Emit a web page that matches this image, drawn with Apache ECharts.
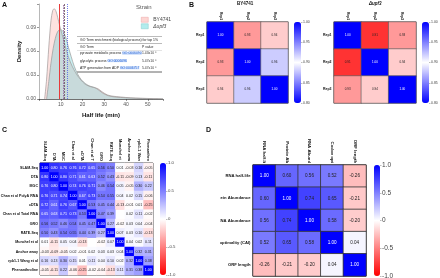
<!DOCTYPE html>
<html>
<head>
<meta charset="utf-8">
<script src="https://cdn.jsdelivr.net/npm/echarts@6/dist/echarts.min.js"></script>
<style>
html, body { margin: 0; padding: 0; background: #fff; }
#main { width: 440px; height: 278px; }
</style>
</head>
<body>
<div id="main"></div>
<script>
var chart = echarts.init(document.getElementById('main'));
var FONT = '"Liberation Sans", Arial, sans-serif';

// --- A: half-life density ---
var byX = [2.6, 3.5, 4.5, 5.5, 6.3, 7.0, 7.8, 8.6, 9.5, 10.5, 11.5, 12.5, 13.5, 14.6, 16, 17.5, 19.2, 21, 23, 25, 27, 29, 31.5, 34, 37.6, 42, 46.8, 52, 57];
var byY = [0, 0.025, 0.065, 0.098, 0.111, 0.113, 0.110, 0.102, 0.092, 0.082, 0.072, 0.062, 0.053, 0.045, 0.037, 0.030, 0.024, 0.019, 0.016, 0.0145, 0.013, 0.009, 0.005, 0.0035, 0.0025, 0.0015, 0.001, 0.0005, 0.0002];
var upfX = [3.5, 4.5, 5.5, 6.5, 7.5, 8.5, 9.7, 11, 12.3, 13.5, 14.8, 16.2, 17.8, 19.5, 21.5, 23.5, 25.5, 27.5, 29.5, 32, 35, 40, 45, 50, 57];
var upfY = [0, 0.022, 0.045, 0.063, 0.076, 0.084, 0.087, 0.085, 0.077, 0.065, 0.053, 0.041, 0.031, 0.024, 0.019, 0.016, 0.0145, 0.011, 0.007, 0.004, 0.0025, 0.0015, 0.0008, 0.0004, 0.0002];
var strains = ['BY4741', 'Δupf3'];
var refLines = [9.2, 11.0, 11.6, 13.1];

var goTitle = 'GO Term enrichment (biological process) for top 1%';
var goTerms = ['pyruvate metabolic process', 'glycolytic process', 'ATP generation from ADP'];
var goIds = ['GO:0006090', 'GO:0006096', 'GO:0006757'];
var goP = ['1.43x10⁻⁸', '5.47x10⁻⁸', '5.47x10⁻⁸'];

// --- B: replicate correlations ---
var reps = ['Rep1', 'Rep2', 'Rep3'];
var byCorr = [[1.00, 0.93, 0.94], [0.93, 1.00, 0.96], [0.94, 0.96, 1.00]];
var upfCorr = [[1.00, 0.91, 0.93], [0.91, 1.00, 0.94], [0.93, 0.94, 1.00]];

// --- C: dataset correlations ---
var sets = ['SLAM-Seq', 'DTA', 'MGC', 'Chan et al PolyA RNA', 'cDTA', 'Chan et al Total RNA', 'GRO', 'RATE-Seq', 'Munchel et al', 'Anchor away', 'rpb1-1 Wang et al', 'Phenanthroline'];
var setCorr = [
  [1.00, 0.80, 0.76, 0.76, 0.72, 0.65, 0.56, 0.50, 0.01, -0.03, 0.16, -0.05],
  [0.80, 1.00, 0.80, 0.71, 0.61, 0.63, 0.52, 0.43, -0.11, -0.09, 0.13, -0.11],
  [0.76, 0.80, 1.00, 0.74, 0.76, 0.71, 0.46, 0.54, 0.05, -0.05, 0.30, 0.22],
  [0.76, 0.71, 0.74, 1.00, 0.67, 0.73, 0.54, 0.55, 0.04, 0.02, 0.15, -0.06],
  [0.72, 0.61, 0.76, 0.67, 1.00, 0.53, 0.45, 0.44, -0.13, -0.01, 0.01, -0.25],
  [0.65, 0.63, 0.71, 0.73, 0.53, 1.00, 0.47, 0.39, null, 0.02, 0.11, -0.02],
  [0.56, 0.52, 0.46, 0.54, 0.45, 0.47, 1.00, 0.27, -0.02, 0.03, 0.04, -0.04],
  [0.50, 0.43, 0.54, 0.55, 0.44, 0.39, 0.27, 1.00, 0.07, 0.03, 0.10, -0.13],
  [0.01, -0.11, 0.05, 0.04, -0.13, null, -0.02, 0.07, 1.00, 0.04, 0.02, 0.11],
  [-0.03, -0.09, -0.05, 0.02, -0.01, 0.02, 0.03, 0.03, 0.04, 1.00, 0.32, 0.31],
  [0.16, 0.13, 0.30, 0.15, 0.01, 0.11, 0.04, 0.10, 0.02, 0.32, 1.00, 0.38],
  [-0.05, -0.11, 0.22, -0.06, -0.25, -0.02, -0.04, -0.13, 0.11, 0.31, 0.38, 1.00]
];

// --- D: features ---
var feats = ['RNA half-life', 'Protein Abundance', 'RNA Abundance', 'Codon optimality (CAI)', 'ORF length'];
var featCorr = [
  [1.00, 0.60, 0.56, 0.52, -0.26],
  [0.60, 1.00, 0.74, 0.65, -0.21],
  [0.56, 0.74, 1.00, 0.58, -0.20],
  [0.52, 0.65, 0.58, 1.00, 0.04],
  [-0.26, -0.21, -0.20, 0.04, 1.00]
];

function pairs(xs, ys) {
  return xs.map(function (x, i) { return [x, ys[i]]; });
}

function cells(mat, whiteFrom) {
  var out = [];
  for (var r = 0; r < mat.length; r++) {
    for (var c = 0; c < mat[r].length; c++) {
      var v = mat[r][c];
      out.push({
        value: [c, r, v == null ? '-' : v],
        label: { color: v != null && v >= whiteFrom ? '#fff' : '#222' }
      });
    }
  }
  return out;
}

function topAxis(gi, labels, fs, w) {
  return {
    type: 'category', gridIndex: gi, data: labels, position: 'top',
    axisLine: { show: false }, axisTick: { show: false }, splitLine: { show: false },
    axisLabel: { interval: 0, rotate: 90, fontSize: fs, fontWeight: 'bold', color: '#111', margin: 2,
      width: w, overflow: 'truncate', ellipsis: '', fontFamily: FONT }
  };
}

function leftAxis(gi, labels, fs, m) {
  return {
    type: 'category', gridIndex: gi, data: labels, inverse: true,
    axisLine: { show: false }, axisTick: { show: false }, splitLine: { show: false },
    axisLabel: { interval: 0, fontSize: fs, fontWeight: 'bold', color: '#111', margin: m, fontFamily: FONT }
  };
}

function barX(gi) {
  return { type: 'category', gridIndex: gi, data: [''], show: false };
}

function barY(gi, min, max, step, fs, dec) {
  return {
    type: 'value', gridIndex: gi, position: 'right', min: min, max: max, interval: step,
    axisLine: { show: false }, splitLine: { show: false },
    axisTick: { show: true, length: 1.5, lineStyle: { color: '#777', width: 0.5 } },
    axisLabel: { fontSize: fs, color: '#444', margin: 2, fontFamily: FONT,
      formatter: function (v) { return Math.abs(v) < 1e-9 ? '0' : v.toFixed(dec); } }
  };
}

function cellLabel(fs) {
  return {
    show: true, fontSize: fs, fontFamily: FONT,
    formatter: function (p) { return typeof p.value[2] === 'number' ? p.value[2].toFixed(2) : ''; }
  };
}

function box(l, t, w, h, frame, bw) {
  var g = { left: l, top: t, width: w, height: h, outerBoundsMode: 'none', containLabel: false };
  if (frame) { g.show = true; g.borderColor = frame; g.borderWidth = bw; }
  return g;
}

var RWB = ['#FF0000', '#FFFFFF', '#0000FF'];

var goRows = goTerms.map(function (t, i) {
  return {
    type: 'text', left: 80, top: 52 + i * 7.2,
    style: { text: '{a|' + t + ' }{b|' + goIds[i] + '}', rich: {
      a: { fontSize: 3.4, fill: '#222', fontFamily: FONT },
      b: { fontSize: 3.4, fill: '#1f5fd6', backgroundColor: '#d6e4fb', fontFamily: FONT }
    } }
  };
}).concat(goP.map(function (p, i) {
  return { type: 'text', left: 142, top: 52 + i * 7.2, style: { text: p, fontSize: 3.4, fill: '#333', fontFamily: FONT } };
}));

option = {
  animation: false,
  textStyle: { fontFamily: FONT },
  grid: [
    box(39, 4, 124, 95),
    box(207, 22, 81, 81, '#444', 0.8),
    box(334, 22, 82, 81, '#444', 0.8),
    box(294, 22, 7, 81),
    box(422, 22, 7, 81),
    box(40, 163, 113, 112, '#222', 1),
    box(160, 163, 6, 112),
    box(253, 165, 113, 111, '#222', 1),
    box(374, 165, 6, 111)
  ],
  xAxis: [
    { type: 'value', gridIndex: 0, min: 0, max: 57, interval: 10,
      name: 'Half life (min)', nameLocation: 'middle', nameGap: 13,
      nameTextStyle: { fontSize: 6, fontWeight: 'bold', color: '#111' },
      axisLine: { lineStyle: { color: '#333', width: 0.7 } },
      axisTick: { length: 2, lineStyle: { color: '#333', width: 0.5 } },
      splitLine: { show: false },
      axisLabel: { fontSize: 5, color: '#555', margin: 3,
        formatter: function (v) { return v === 0 || v > 50 ? '' : v; } } },
    topAxis(1, reps, 3.3, 20),
    topAxis(2, reps, 3.3, 20),
    barX(3), barX(4),
    topAxis(5, sets, 4.0, 24),
    barX(6),
    topAxis(7, feats, 4.3, 25),
    barX(8)
  ],
  yAxis: [
    { type: 'value', gridIndex: 0, min: 0, max: 0.119, interval: 0.03,
      name: 'Density', nameLocation: 'middle', nameGap: 16,
      nameTextStyle: { fontSize: 6, fontWeight: 'bold', color: '#111' },
      axisLine: { show: true, lineStyle: { color: '#999', width: 0.7 } },
      axisTick: { show: true, length: 2, lineStyle: { color: '#333', width: 0.5 } },
      splitLine: { show: false },
      axisLabel: { fontSize: 5, color: '#555', margin: 3,
        formatter: function (v) { return v > 0.1 ? '' : v.toFixed(2); } } },
    leftAxis(1, reps, 3.5, 2.5),
    leftAxis(2, reps, 3.5, 2.5),
    barY(3, 0.8, 1.0, 0.05, 3.5, 2),
    barY(4, 0.8, 1.0, 0.05, 3.5, 2),
    leftAxis(5, sets, 3.6, 2),
    barY(6, -1, 1, 0.5, 4.3, 1),
    leftAxis(7, feats, 4.2, 2.5),
    barY(8, -1, 1, 0.5, 6.5, 1)
  ],
  legend: {
    orient: 'vertical', left: 136, top: 12, itemGap: 1, itemWidth: 7, itemHeight: 5, icon: 'rect',
    textStyle: { fontSize: 5, color: '#444', fontFamily: FONT },
    data: [
      { name: strains[0], itemStyle: { color: 'rgba(248,118,109,0.3)', borderColor: '#e8a0a0', borderWidth: 0.5 } },
      { name: strains[1], itemStyle: { color: 'rgba(0,191,196,0.3)', borderColor: '#80c8c8', borderWidth: 0.5 },
        textStyle: { fontStyle: 'italic' } }
    ]
  },
  visualMap: [
    { type: 'continuous', show: false, seriesIndex: [2, 3], min: 0.9, max: 1.0, dimension: 2, inRange: { color: RWB } },
    { type: 'continuous', seriesIndex: 6, min: 0.8, max: 1.0, left: 294, top: 22, itemWidth: 7, itemHeight: 81,
      padding: 0, calculable: false, inRange: { color: ['#0000FF', '#FFFFFF', '#0000FF'] } },
    { type: 'continuous', seriesIndex: 7, min: 0.8, max: 1.0, left: 422, top: 22, itemWidth: 7, itemHeight: 81,
      padding: 0, calculable: false, inRange: { color: ['#0000FF', '#FFFFFF', '#0000FF'] } },
    { type: 'continuous', seriesIndex: 4, min: -1, max: 1, dimension: 2, left: 160, top: 163, itemWidth: 6, itemHeight: 112,
      padding: 0, calculable: false, inRange: { color: RWB } },
    { type: 'continuous', seriesIndex: 5, min: -1, max: 1, dimension: 2, left: 374, top: 165, itemWidth: 6, itemHeight: 111,
      padding: 0, calculable: false, inRange: { color: RWB } }
  ],
  series: [
    { name: strains[0], type: 'line', xAxisIndex: 0, yAxisIndex: 0, data: pairs(byX, byY),
      showSymbol: false, smooth: 0.3, itemStyle: { color: 'rgba(248,118,109,0.3)' },
      lineStyle: { color: '#a09a9a', width: 0.7 }, areaStyle: { color: 'rgba(248,118,109,0.3)' },
      markLine: { silent: true, symbol: 'none', label: { show: false }, animation: false,
        data: [
          { xAxis: refLines[0], lineStyle: { color: '#e83a3a', width: 1, type: 'solid' } },
          { xAxis: refLines[1], lineStyle: { color: '#8a5a9a', width: 0.8, type: [1.5, 1] } }
        ] } },
    { name: strains[1], type: 'line', xAxisIndex: 0, yAxisIndex: 0, data: pairs(upfX, upfY),
      showSymbol: false, smooth: 0.3, itemStyle: { color: 'rgba(0,191,196,0.3)' },
      lineStyle: { color: '#999', width: 0.7 }, areaStyle: { color: 'rgba(0,191,196,0.3)' },
      markLine: { silent: true, symbol: 'none', label: { show: false }, animation: false,
        data: [
          { xAxis: refLines[2], lineStyle: { color: '#6a4a5a', width: 0.8, type: [2, 1] } },
          { xAxis: refLines[3], lineStyle: { color: '#4a5ae8', width: 0.8, type: [1, 1] } }
        ] } },
    { type: 'heatmap', xAxisIndex: 1, yAxisIndex: 1, data: cells(byCorr, 0.99),
      itemStyle: { borderColor: '#555', borderWidth: 0.6 }, label: cellLabel(3) },
    { type: 'heatmap', xAxisIndex: 2, yAxisIndex: 2, data: cells(upfCorr, 0.99),
      itemStyle: { borderColor: '#555', borderWidth: 0.6 }, label: cellLabel(3) },
    { type: 'heatmap', xAxisIndex: 5, yAxisIndex: 5, data: cells(setCorr, 0.6),
      itemStyle: { borderWidth: 0 }, label: cellLabel(3.6) },
    { type: 'heatmap', xAxisIndex: 7, yAxisIndex: 7, data: cells(featCorr, 0.9),
      itemStyle: { borderColor: '#333', borderWidth: 0.8 }, label: cellLabel(4.6) },
    { type: 'scatter', xAxisIndex: 3, yAxisIndex: 3, data: [] },
    { type: 'scatter', xAxisIndex: 4, yAxisIndex: 4, data: [] }
  ],
  graphic: [
    { type: 'rect', z: 100, shape: { x: 184, y: 150, width: 36, height: 128 }, style: { fill: '#fff' } },
    { type: 'text', z: 101, left: 2, top: 2, style: { text: 'A', fontSize: 7, fontWeight: 'bold', fill: '#111', fontFamily: FONT } },
    { type: 'text', z: 101, left: 189, top: 2, style: { text: 'B', fontSize: 7, fontWeight: 'bold', fill: '#111', fontFamily: FONT } },
    { type: 'text', z: 101, left: 2, top: 127, style: { text: 'C', fontSize: 7, fontWeight: 'bold', fill: '#111', fontFamily: FONT } },
    { type: 'text', z: 101, left: 206, top: 127, style: { text: 'D', fontSize: 7, fontWeight: 'bold', fill: '#111', fontFamily: FONT } },
    { type: 'text', left: 136, top: 4, style: { text: 'Strain', fontSize: 6, fill: '#555', fontFamily: FONT } },
    { type: 'text', left: 237, top: 1, style: { text: 'BY4741', fontSize: 4.5, fontWeight: 'bold', fill: '#111', fontFamily: FONT } },
    { type: 'text', left: 369, top: 1, style: { text: 'Δupf3', fontSize: 4.5, fontWeight: 'bold', fontStyle: 'italic', fill: '#111', fontFamily: FONT } },
    { type: 'line', shape: { x1: 77, y1: 36.5, x2: 162, y2: 36.5 }, style: { stroke: '#777', lineWidth: 0.5 } },
    { type: 'text', left: 80, top: 38.5, style: { text: goTitle, fontSize: 3.4, fill: '#222', fontFamily: FONT } },
    { type: 'line', shape: { x1: 77, y1: 43.5, x2: 162, y2: 43.5 }, style: { stroke: '#777', lineWidth: 0.5 } },
    { type: 'text', left: 80, top: 46, style: { text: 'GO Term', fontSize: 3.4, fill: '#222', fontFamily: FONT } },
    { type: 'text', left: 142, top: 46, style: { text: 'P value', fontSize: 3.4, fill: '#222', fontFamily: FONT } },
    { type: 'line', shape: { x1: 77, y1: 50.5, x2: 162, y2: 50.5 }, style: { stroke: '#bbb', lineWidth: 0.4 } },
    { type: 'line', shape: { x1: 77, y1: 72, x2: 162, y2: 72 }, style: { stroke: '#555', lineWidth: 0.9 } }
  ].concat(goRows)
};

option && chart.setOption(option);
</script>
</body>
</html>
